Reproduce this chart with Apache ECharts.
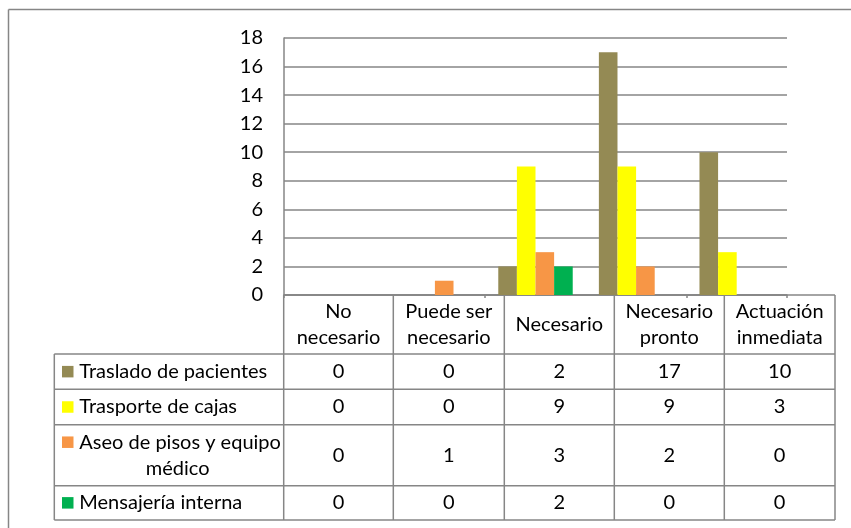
<!DOCTYPE html>
<html>
<head>
<meta charset="utf-8">
<script src="https://cdn.jsdelivr.net/npm/echarts@6/dist/echarts.min.js"></script>
<style>
  html, body { margin: 0; padding: 0; background: #fff; }
  #chart { width: 851px; height: 528px; }
</style>
</head>
<body>
<div id="chart"></div>
<script>
// Categories (column headers of the data table)
const categories = ['No necesario', 'Puede ser necesario', 'Necesario', 'Necesario pronto', 'Actuación inmediata'];
const headerLabels = ['No\nnecesario', 'Puede ser\nnecesario', 'Necesario', 'Necesario\npronto', 'Actuación\ninmediata'];

// Series
const seriesNames = ['Traslado de pacientes', 'Trasporte de cajas', 'Aseo de pisos y equipo médico', 'Mensajería interna'];
const rowLabels = ['Traslado de pacientes', 'Trasporte de cajas', 'Aseo de pisos y equipo\nmédico', 'Mensajería interna'];
const traslado = [0, 0, 2, 17, 10];
const trasporte = [0, 0, 9, 9, 3];
const aseo = [0, 1, 3, 2, 0];
const mensajeria = [0, 0, 2, 0, 0];
const seriesValues = [traslado, trasporte, aseo, mensajeria];

// Value axis
const yMin = 0, yMax = 18, yStep = 2;

const colors = ['#948A54', '#FFFF00', '#F79646', '#00B050'];
const FONT = 'Lato, "Open Sans", sans-serif';
const FS = 20;
const lineColor = '#868686';

const chart = echarts.init(document.getElementById('chart'), null, { renderer: 'canvas' });

// Data table geometry
const colEdges = [283.7, 393.3, 504.3, 614.3, 724.3, 835];
const labelLeft = 54.3;
const headerTop = 295;
const rowEdges = [354, 389.3, 424.7, 485.7, 520];

const graphics = [];
function hline(x1, x2, y) {
  graphics.push({ type: 'line', silent: true, shape: { x1, y1: y, x2, y2: y }, style: { stroke: lineColor, lineWidth: 1.5 } });
}
function vline(x, y1, y2) {
  graphics.push({ type: 'line', silent: true, shape: { x1: x, y1, x2: x, y2 }, style: { stroke: lineColor, lineWidth: 1.5 } });
}
function text(str, x, y, align) {
  graphics.push({
    type: 'text', silent: true,
    style: { text: str, x, y, fill: '#000', fontSize: FS, fontFamily: FONT, align, verticalAlign: 'middle', lineHeight: 26 }
  });
}

// outer frame
hline(8.5, 851, 9.5);
vline(8.5, 9.5, 528);

// table borders
hline(colEdges[0], colEdges[colEdges.length - 1], headerTop);
rowEdges.forEach(y => hline(labelLeft, colEdges[colEdges.length - 1], y));
colEdges.forEach(x => vline(x, headerTop, rowEdges[rowEdges.length - 1]));
vline(labelLeft, rowEdges[0], rowEdges[rowEdges.length - 1]);

// header texts
headerLabels.forEach((h, i) => {
  text(h, (colEdges[i] + colEdges[i + 1]) / 2, (headerTop + rowEdges[0]) / 2, 'center');
});

// row labels with legend keys, and values
const keyX = 62, keySize = 11.5, textX = 79.3, textRight = 276;
rowLabels.forEach((lab, r) => {
  const yTop = rowEdges[r], yBot = rowEdges[r + 1];
  const lines = lab.split('\n');
  const cy = (yTop + yBot) / 2;
  const firstY = cy - (lines.length - 1) * 13;
  graphics.push({
    type: 'rect', silent: true,
    shape: { x: keyX, y: firstY - keySize / 2, width: keySize, height: keySize },
    style: { fill: colors[r] }
  });
  lines.forEach((ln, k) => {
    if (k === 0) text(ln, textX, firstY, 'left');
    else text(ln, (textX + textRight) / 2, firstY + k * 26, 'center');
  });
  seriesValues[r].forEach((v, c) => {
    text(String(v), (colEdges[c] + colEdges[c + 1]) / 2, cy, 'center');
  });
});

const option = {
  animation: false,
  backgroundColor: '#fff',
  grid: { left: 284, top: 38, width: 503, height: 257, containLabel: false },
  xAxis: {
    type: 'category',
    data: categories,
    axisLine: { show: true, lineStyle: { color: lineColor, width: 1.5 } },
    axisTick: { show: true, length: 3, lineStyle: { color: lineColor, width: 1.5 } },
    axisLabel: { show: false },
    splitLine: { show: false }
  },
  yAxis: {
    type: 'value',
    min: yMin, max: yMax, interval: yStep,
    axisLine: { show: true, lineStyle: { color: lineColor, width: 1.5 } },
    axisTick: { show: false },
    axisLabel: { color: '#000', fontSize: FS, fontFamily: FONT, margin: 21 },
    splitLine: { show: true, lineStyle: { color: lineColor, width: 1.5 } }
  },
  series: seriesNames.map((name, i) => ({
    name,
    type: 'bar',
    data: seriesValues[i],
    barGap: '0%',
    barCategoryGap: '26%',
    itemStyle: { color: colors[i] }
  })),
  graphic: graphics
};

chart.setOption(option);
</script>
</body>
</html>
